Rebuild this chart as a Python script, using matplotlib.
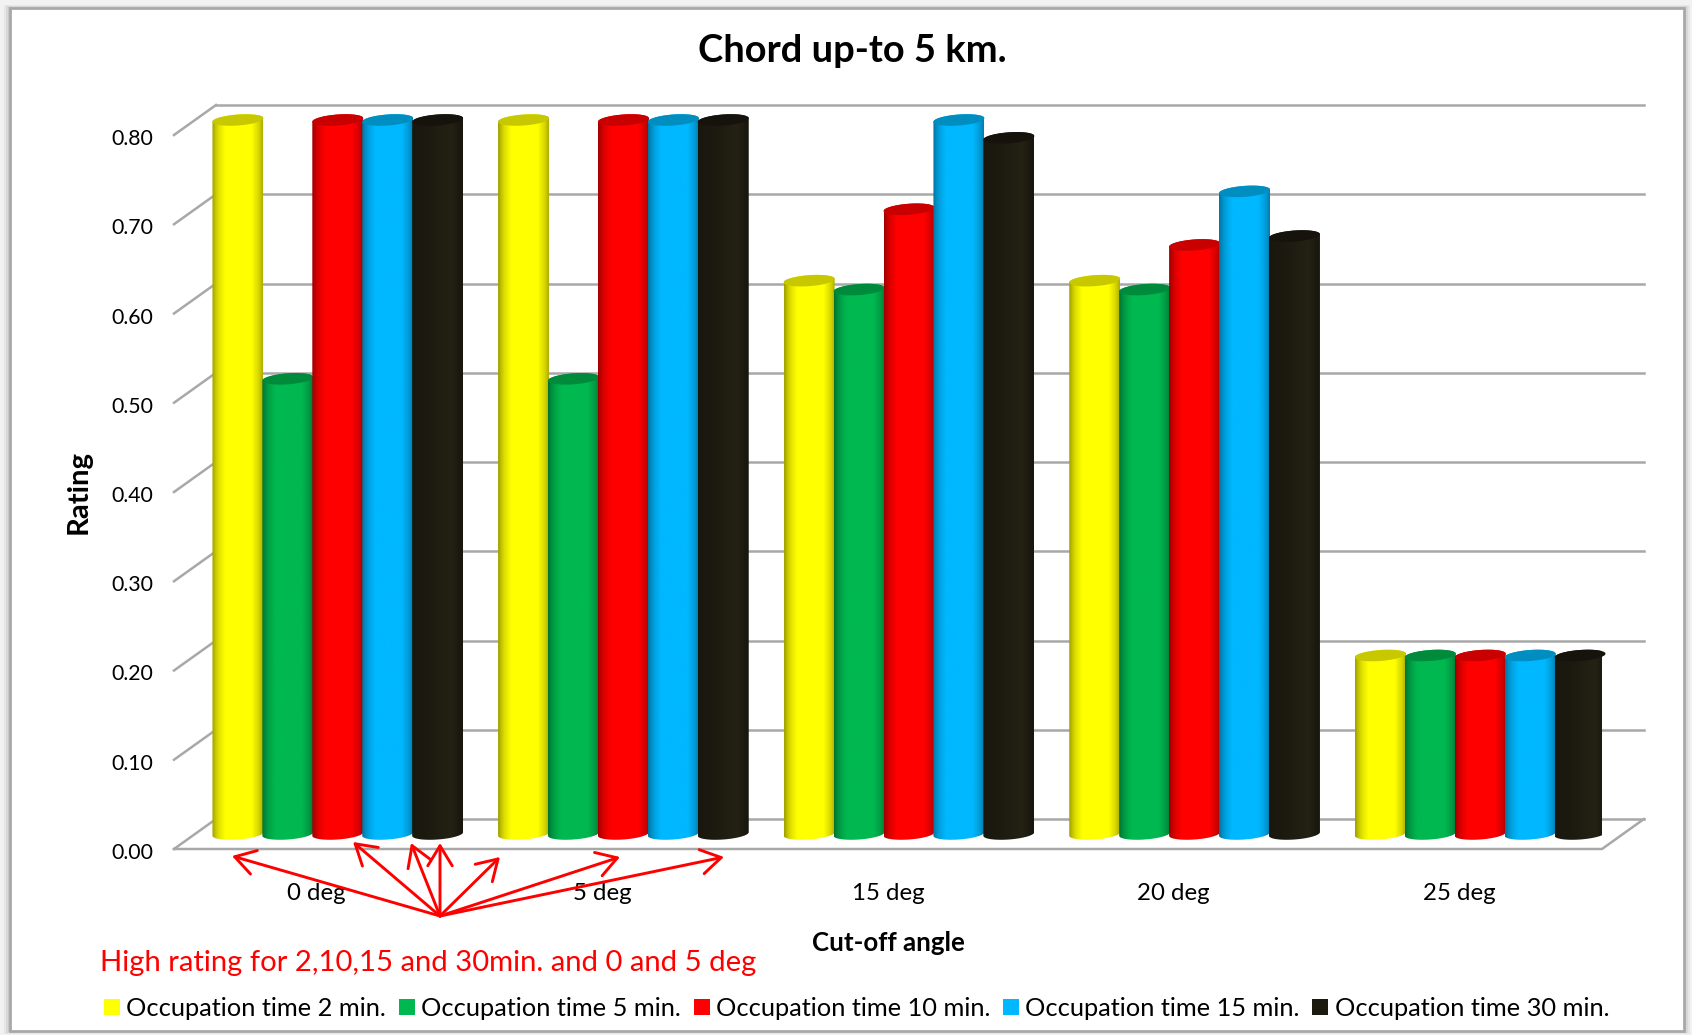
import numpy as np
import matplotlib
matplotlib.use("Agg")
import matplotlib.pyplot as plt
from matplotlib.patches import Rectangle, Patch, PathPatch, FancyArrowPatch
from matplotlib.path import Path
from matplotlib.transforms import ScaledTranslation

# ---- data ----
categories = ["0 deg", "5 deg", "15 deg", "20 deg", "25 deg"]
series_names = ["Occupation time 2 min.", "Occupation time 5 min.", "Occupation time 10 min.",
                "Occupation time 15 min.", "Occupation time 30 min."]
t2 = [0.80, 0.80, 0.62, 0.62, 0.20]
t5 = [0.51, 0.51, 0.61, 0.61, 0.20]
t10 = [0.80, 0.80, 0.70, 0.66, 0.20]
t15 = [0.80, 0.80, 0.80, 0.72, 0.20]
t30 = [0.80, 0.80, 0.78, 0.67, 0.20]
series = [t2, t5, t10, t15, t30]
colors = ["#FFFF00", "#00B850", "#FF0000", "#00B8FF", "#1D1B10"]
caps = ["#C8C800", "#008A3C", "#C80000", "#008EC0", "#15130B"]
yticks = [0.0, 0.1, 0.2, 0.3, 0.4, 0.5, 0.6, 0.7, 0.8]
title = "Chord up-to 5 km."
xlabel = "Cut-off angle"
ylabel = "Rating"
note = "High rating for 2,10,15 and 30min. and 0 and 5 deg"
arrow_origin = (440, 916)
arrow_tips = [(232, 856), (353, 842), (411, 843), (440, 843), (500, 857), (620, 857), (724, 857)]

W, H = 1692, 1035
plt.rcParams["font.family"] = ["Lato", "DejaVu Sans"]
fig = plt.figure(figsize=(W / 100, H / 100), dpi=100, facecolor="white")

# frame with a soft outer shadow
def frect(x0, y0, x1, y1, **kw):
    fig.add_artist(Rectangle((x0 / W, 1 - y1 / H), (x1 - x0) / W, (y1 - y0) / H,
                             transform=fig.transFigure, zorder=0, **kw))
frect(0, 0, W, H, fc="#f2f2f2", ec="none")
for i, c in enumerate(["#e6e6e6", "#d8d8d8", "#c8c8c8"]):
    frect(8 - 2 * (2 - i) + 0, 7 - (2 - i), 1686 + 2 * (2 - i), 1032 + (2 - i), fc=c, ec="none")
frect(10, 8, 1684, 1031, fc="white", ec="#a9a9a9", lw=2.0)

# axes: zero sits at pixel row 849, 0.80 at row 135; head room above for the 3D depth
head_px = 45
ax_h = 714 + head_px
ax = fig.add_axes([174 / W, 1 - 849 / H, 1428 / W, ax_h / H])
ax.set_zorder(2)
ax.set_facecolor("none")
for s in ax.spines.values():
    s.set_visible(False)
px_x = 5 / 1428
px_y = 0.8 / 714
y_top = 0.8 + head_px * px_y
ax.set_xlim(0, 5)
ax.set_ylim(0, y_top)
ax.autoscale(False)

dx, dy = 42 * px_x, 30 * px_y
GRID = "#a8a8a8"
glw = 1.8

# walls and floor
for v in yticks:
    ax.plot([0, dx], [v, v + dy], color=GRID, lw=glw, clip_on=False, zorder=1)
    ax.plot([dx, 5 + dx], [v + dy, v + dy], color=GRID, lw=glw, clip_on=False, zorder=1)
ax.plot([0, 5, 5 + dx], [0, 0, dy], color=GRID, lw=glw, clip_on=False, zorder=1)

# cylinders
bar_pitch = 0.1748
bar_w = 0.1785
a = bar_w / 2
b = 5.5 * px_y
k = 1.8 * px_y
grad_pos = [0.0, 0.05, 0.13, 0.26, 0.78, 0.92, 1.0]
grad_val = [0.62, 0.74, 0.88, 1.0, 1.0, 0.84, 0.68]
t_pts = np.linspace(0, 1, 128)
shade = np.interp(t_pts, grad_pos, grad_val)

def ellipse_pts(cx, cy, t):
    return cx + a * np.cos(t), cy + b * np.sin(t) + k * np.cos(t)

z = 3
for g in range(len(categories)):
    x_left = g + 0.5 + dx / 2 - 2.5 * bar_pitch
    for s, vals in enumerate(series):
        v = vals[g]
        cx = x_left + (s + 0.5) * bar_pitch
        cy0, cy1 = dy / 2, v + dy / 2
        xb, yb = ellipse_pts(cx, cy0, np.linspace(np.pi, 2 * np.pi, 40))
        xt, yt = ellipse_pts(cx, cy1, np.linspace(0, np.pi, 40))
        body = Path(np.column_stack([np.r_[xb, xt, xb[0]], np.r_[yb, yt, yb[0]]]), closed=False)
        base = np.array(matplotlib.colors.to_rgb(colors[s]))
        if s == 4:
            rgb = np.outer(np.interp(t_pts, grad_pos, [0.85, 0.9, 0.95, 0.95, 1.25, 0.95, 0.8]), base)
            rgb = np.clip(rgb, 0, 1)
        else:
            rgb = np.clip(np.outer(shade, base), 0, 1)
        im = ax.imshow(rgb[None, :, :], extent=[cx - a, cx + a, cy0 - b - k, cy1 + b + k],
                       aspect="auto", interpolation="bilinear", zorder=z)
        patch = PathPatch(body, transform=ax.transData, fc="none", ec="none", clip_on=False)
        ax.add_patch(patch)
        im.set_clip_path(patch)
        z += 1
        xc, yc = ellipse_pts(cx, cy1, np.linspace(0, 2 * np.pi, 80))
        ax.fill(xc, yc, color=caps[s], lw=0, zorder=z, clip_on=False)
        z += 1
ax.set_xlim(0, 5)
ax.set_ylim(0, y_top)

# axes text
ax.set_xticks(np.arange(len(categories)) + 0.5, categories)
ax.set_yticks(yticks, [f"{v:.2f}" for v in yticks])
ax.tick_params(axis="both", length=0, labelcolor="black")
ax.tick_params(axis="x", pad=24.7, labelsize=17.3)
ax.tick_params(axis="y", pad=15, labelsize=15.3)
nudge = ScaledTranslation(0, -2 / 100, fig.dpi_scale_trans)
for lab in ax.get_yticklabels():
    lab.set_transform(lab.get_transform() + nudge)
ax.set_xlabel(xlabel, fontweight="bold", fontsize=18.6)
ax.xaxis.set_label_coords(0.5, (849 - 931) / ax_h)
ax.set_ylabel(ylabel, fontweight="bold", fontsize=21.2)
ax.yaxis.set_label_coords((92 - 174) / 1428, 357 / ax_h)
fig.text(852 / W, 1 - 51 / H, title, fontweight="bold", fontsize=27.4, ha="center", va="center", zorder=3)
fig.text(100 / W, 1 - 963 / H, note, color="#FF0000", fontsize=21.1, ha="left", va="center", zorder=3)

# arrows
for tip in arrow_tips:
    fig.add_artist(FancyArrowPatch(
        posA=(arrow_origin[0] / W, 1 - arrow_origin[1] / H),
        posB=(tip[0] / W, 1 - tip[1] / H), transform=fig.transFigure,
        arrowstyle="->,head_length=9,head_width=5.5", color="#FF0000", lw=2.1,
        shrinkA=0, shrinkB=0, mutation_scale=1.6, zorder=10))

# legend
handles = [Patch(fc=c, ec="none") for c in colors]
ax.legend(handles, series_names, ncol=5, frameon=False, fontsize=18.27,
          loc="center left", bbox_to_anchor=(104 / W, 1 - 1008.5 / H), bbox_transform=fig.transFigure,
          borderaxespad=0, borderpad=0, handlelength=0.63, handleheight=0.55, handletextpad=0.25,
          columnspacing=0.5)

fig.savefig("out.png", dpi=100, facecolor=fig.get_facecolor())
